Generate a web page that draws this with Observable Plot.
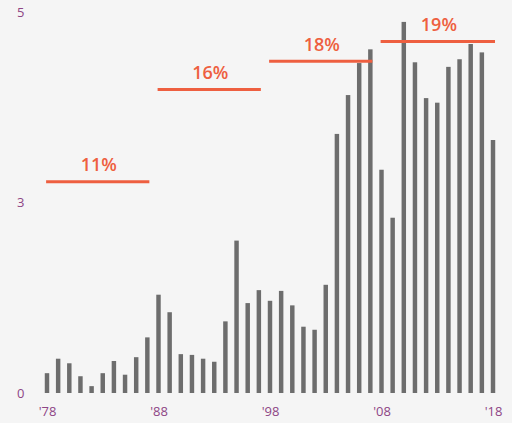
<!DOCTYPE html>
<html>
<head>
<meta charset="utf-8">
<script src="https://cdn.jsdelivr.net/npm/d3@7"></script>
<script src="https://cdn.jsdelivr.net/npm/@observablehq/plot@0.6"></script>
<style>
  html, body { margin: 0; padding: 0; background: #f5f5f5; }
  #chart svg { display: block; background: linear-gradient(to right, #f0f0f0 0px, #f0f0f0 45px, #f4f4f4 46px, #f8f8f8 100%); }
</style>
</head>
<body>
<div id="chart"></div>
<script>
const years = d3.range(1978, 2019);
const values = [
  0.26, 0.45, 0.39, 0.22, 0.09, 0.26, 0.42, 0.24, 0.47, 0.73,
  1.29, 1.06, 0.51, 0.50, 0.45, 0.41, 0.94, 2.00, 1.18, 1.35,
  1.21, 1.34, 1.15, 0.87, 0.83, 1.42, 3.40, 3.91, 4.33, 4.51,
  2.93, 2.30, 4.87, 4.34, 3.87, 3.81, 4.28, 4.38, 4.58, 4.47,
  3.32
];
const periodStart = [1978, 1988, 1998, 2008];
const periodEnd = [1987, 1997, 2007, 2018];
const periodLevel = [2.78, 3.99, 4.36, 4.62];
const periodLabel = ["11%", "16%", "18%", "19%"];
const yTickValues = [0, 2.5, 5];
const yTickLabels = ["0", "3", "5"];
const xTickValues = [1978, 1988, 1998, 2008, 2018];
const xTickLabels = ["'78", "'88", "'98", "'08", "'18"];

const bars = years.map((year, i) => ({year, value: values[i]}));
const periods = periodStart.map((s, i) => ({start: s, end: periodEnd[i], level: periodLevel[i], label: periodLabel[i]}));

const tickColor = "#8e4585";
const red = "#ee5f40";

const chart = Plot.plot({
  width: 512,
  height: 423,
  marginLeft: 47,
  marginRight: 19,
  marginTop: 12,
  marginBottom: 30,
  style: {fontFamily: "'Open Sans', sans-serif", background: "transparent"},
  x: {domain: [1978, 2018]},
  y: {domain: [0, 5]},
  marks: [
    Plot.rectY(bars, {x1: d => d.year - 0.2, x2: d => d.year + 0.2, y: "value", fill: "#6d6d6d"}),
    Plot.ruleY(periods, {x1: d => d.start - 0.08, x2: d => d.end + 0.18, y: "level", stroke: red, strokeWidth: 3}),
    Plot.text(periods, {x: d => (d.start + d.end) / 2 + 0.1, y: "level", text: "label", dy: -16, fill: red, fontSize: 18, fontWeight: 600, textAnchor: "middle", lineAnchor: "middle"}),
    Plot.axisX({ticks: xTickValues, tickFormat: d => xTickLabels[xTickValues.indexOf(d)], tickSize: 0, tickPadding: 13, fontSize: 13, color: tickColor, label: null}),
    Plot.axisY({ticks: yTickValues, tickFormat: d => yTickLabels[yTickValues.indexOf(d)], tickSize: 0, tickPadding: 23, fontSize: 13, color: tickColor, label: null})
  ]
});
document.getElementById("chart").appendChild(chart);
</script>
</body>
</html>
